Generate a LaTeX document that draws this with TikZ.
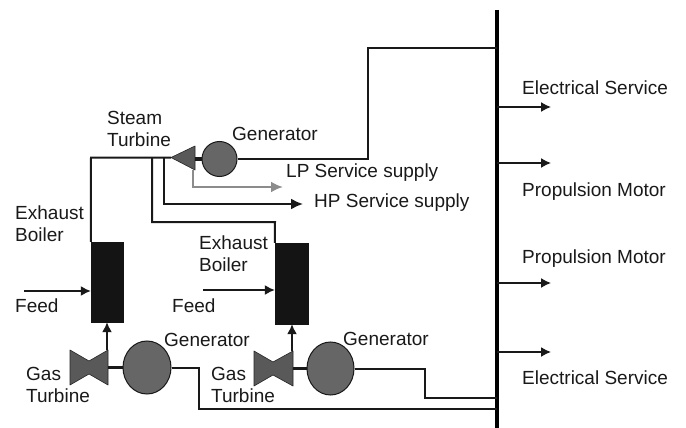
\documentclass[tikz,border=0pt]{standalone}
\usepackage{fontspec}
\setmainfont{Liberation Sans}
\usetikzlibrary{arrows.meta}
\tikzset{
 lab/.style={anchor=west,inner sep=0pt,font=\fontsize{19}{22}\selectfont,align=left,text=black!90},
 pipe/.style={draw=black!90,line width=2pt,line join=miter},
 flow/.style={pipe,-{Latex[length=12pt,width=11pt]}},
 thin flow/.style={draw=black!90,line width=1.5pt,-{Latex[length=10pt,width=10pt]}},
 boiler/.style={fill=black!92,draw=black!92,minimum width=32pt,minimum height=80pt,inner sep=0pt},
 gen/.style={ellipse,draw=black!90,fill=black!60,line width=1pt,inner sep=0pt},
 shaft/.style={draw=black!90,line width=3.5pt},
 turb/.style={fill=black!65,draw=black!85,line width=.6pt,line join=round},
}
\usetikzlibrary{shapes.geometric}
\begin{document}
\begin{tikzpicture}[x=1pt,y=-1pt]
\useasboundingbox (0,0) rectangle (686,428);
% bus
\coordinate (bt) at (497,10); \coordinate (bb) at (497,428);
\draw[draw=black,line width=4.5pt] (bt) -- (bb);
% boilers
\node[boiler] (b1) at (107,282) {};
\node[boiler,minimum width=33pt,minimum height=81pt] (b2) at (291.5,283.5) {};
% generators
\node[gen,minimum width=35pt,minimum height=35pt] (g0) at (219.5,159) {};
\node[gen,minimum width=48pt,minimum height=53pt] (g1) at (147,367.5) {};
\node[gen,minimum width=47pt,minimum height=53pt] (g2) at (330.5,368.5) {};
% steam turbine
\coordinate (s0) at (171,157.5);
\draw[turb] (s0) -- (195,146) -- (195,170) -- cycle;
\coordinate (s1) at (195,159);
\draw[shaft] (s1) -- (g0.west);
% gas turbines
\draw[turb] (70,350) -- (89,361) -- (108,350) -- (108,385) -- (89,374) -- (70,385) -- cycle;
\draw[turb] (254,351) -- (273,362) -- (293,351) -- (293,386) -- (273,375) -- (254,386) -- cycle;
\coordinate (t1) at (108,367.5); \coordinate (t2) at (293,368.5);
\draw[shaft] (t1) -- (g1.west);
\draw[shaft] (t2) -- (g2.west);
% pipes
\draw[pipe] (g0.east) -- (368,159) -- (368,48) -- (bt |- 0,48);
\draw[pipe] (b1.north west) ++(0,0) -- (91,157.5) -- (s0);
\draw[pipe] (152,157.5) -- (152,222) -- (275,222) -- (b2.north west);
\draw[flow] (164,157.5) -- (164,204) -- (303,204);
\draw[draw=black!45,line width=2.4pt,-{Latex[length=12pt,width=11pt]}] (193,170) -- (193,187) -- (283,187);
\draw[pipe] (g1.east) -- (199,367.5) -- (199,409) -- (bb |- 0,409);
\draw[pipe] (g2.east) -- (425,368.5) -- (425,398) -- (bb |- 0,398);
% feeds and exhaust
\coordinate (f1) at (24,291); \coordinate (f2) at (203,290);
\draw[thin flow] (f1) -- (f1 -| b1.west);
\draw[thin flow] (f2) -- (f2 -| b2.west);
\coordinate (e1) at (107,350); \coordinate (e2) at (292,351);
\draw[thin flow] (e1) -- (b1.south -| e1);
\draw[thin flow] (e2) -- (b2.south -| e2);
% services
\foreach \y/\n in {107/a,163/b,283/c,352/d}{
 \coordinate (o\n) at (551,\y);
 \draw[thin flow] (bb |- o\n) -- (o\n);
}
% labels
\node[lab] (l1) at (522,88) {Electrical Service};
\node[lab] (l2) at (522,192) {Propulsion Motor};
\node[lab] (l3) at (522,259) {Propulsion Motor};
\node[lab] (l4) at (522,378) {Electrical Service};
\node[lab] (l5) at (107,129) {Steam\\Turbine};
\node[lab] (l6) at (232,134) {Generator};
\node[lab] (l7) at (286,173) {LP Service supply};
\node[lab] (l8) at (314,203) {HP Service supply};
\node[lab] (l9) at (15,224) {Exhaust\\Boiler};
\node[lab] (l10) at (15,306) {Feed};
\node[lab] (l11) at (199,254) {Exhaust\\Boiler};
\node[lab] (l12) at (172,306) {Feed};
\node[lab] (l13) at (26,385) {Gas\\Turbine};
\node[lab] (l14) at (164,340) {Generator};
\node[lab] (l15) at (211,385) {Gas\\Turbine};
\node[lab] (l16) at (343,339) {Generator};
\end{tikzpicture}
\end{document}
